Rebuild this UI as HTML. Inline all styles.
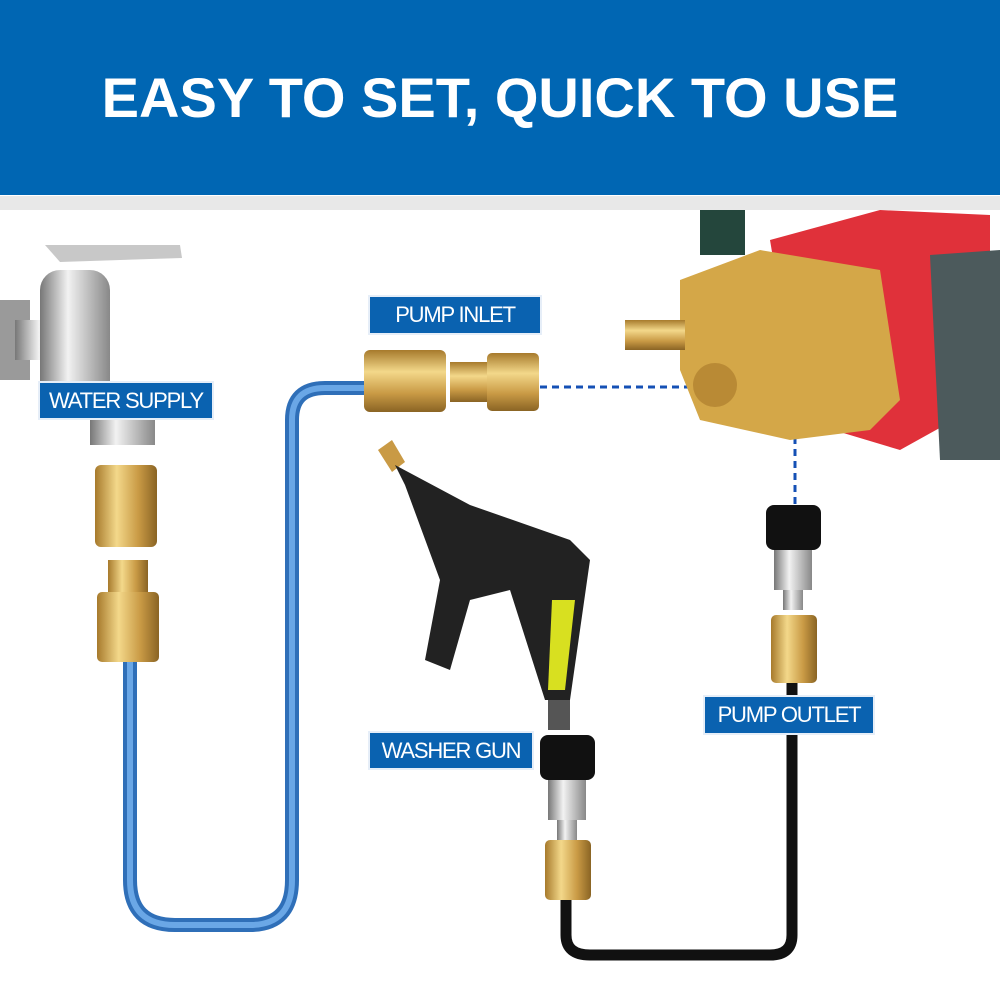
<!DOCTYPE html>
<html><head><style>
html,body{margin:0;padding:0;background:#fff}
.w{position:relative;width:1000px;height:985px;overflow:hidden;font-family:"Liberation Sans",sans-serif}
.hd{position:absolute;left:0;top:0;width:1000px;height:195px;background:#0066b3;color:#fff;font-weight:bold;font-size:56px;text-align:center;line-height:195px;letter-spacing:0px}
.gb{position:absolute;left:0;top:196px;width:1000px;height:14px;background:#e8e8e8}
.lb{position:absolute;background:#0a62b0;color:#fff;font-size:22px;text-align:center;letter-spacing:-1.2px;box-shadow:0 0 0 2px #e6eef8}
svg{position:absolute;left:0;top:0}
</style></head><body><div class="w">
<div class="hd">EASY TO SET, QUICK TO USE</div>
<div class="gb"></div>
<svg width="1000" height="985">
<defs>
<linearGradient id="br" x1="0" y1="0" x2="1" y2="0"><stop offset="0" stop-color="#a77a2c"/><stop offset=".35" stop-color="#f3d88a"/><stop offset=".7" stop-color="#c99a45"/><stop offset="1" stop-color="#8a6424"/></linearGradient>
<linearGradient id="brv" x1="0" y1="0" x2="0" y2="1"><stop offset="0" stop-color="#a77a2c"/><stop offset=".35" stop-color="#f3d88a"/><stop offset=".7" stop-color="#c99a45"/><stop offset="1" stop-color="#8a6424"/></linearGradient>
<linearGradient id="ch" x1="0" y1="0" x2="1" y2="0"><stop offset="0" stop-color="#777"/><stop offset=".4" stop-color="#f2f2f2"/><stop offset="1" stop-color="#888"/></linearGradient>
</defs>
<rect x="0" y="300" width="30" height="80" fill="#9a9a9a"/>
<rect x="15" y="320" width="60" height="40" fill="url(#ch)"/>
<rect x="40" y="270" width="70" height="130" rx="20" fill="url(#ch)"/>
<path d="M45 245 L180 245 L182 258 L60 262 Z" fill="#c8c8c8"/>
<rect x="90" y="400" width="65" height="45" fill="url(#ch)"/>
<path d="M130 660 L130 880 Q130 925 175 925 L250 925 Q292 925 292 880 L292 420 Q292 388 325 388 L368 388" fill="none" stroke="#2f6fb8" stroke-width="14"/>
<path d="M130 660 L130 880 Q130 925 175 925 L250 925 Q292 925 292 880 L292 420 Q292 388 325 388 L368 388" fill="none" stroke="#6aa7e6" stroke-width="6"/>
<rect x="95" y="465" width="62" height="82" rx="6" fill="url(#br)"/>
<rect x="108" y="560" width="40" height="35" fill="url(#br)"/>
<rect x="97" y="592" width="62" height="70" rx="5" fill="url(#br)"/>
<rect x="364" y="350" width="82" height="62" rx="6" fill="url(#brv)"/>
<rect x="450" y="362" width="40" height="40" fill="url(#brv)"/>
<rect x="487" y="353" width="52" height="58" rx="5" fill="url(#brv)"/>
<g stroke="#1550b5" stroke-width="3" stroke-dasharray="7,5" fill="none">
<path d="M540 387 L690 387"/><path d="M645 347 L795 347 L795 505"/>
</g>
<rect x="700" y="210" width="45" height="45" fill="#24463c"/>
<path d="M770 240 L880 210 L990 215 L990 400 L900 450 L800 420 Z" fill="#e0313a"/>
<path d="M930 255 L1000 250 L1000 460 L940 460 Z" fill="#4c5a5c"/>
<path d="M680 280 L760 250 L880 270 L900 400 L870 430 L790 440 L700 420 L680 370 Z" fill="#d4a748"/>
<rect x="625" y="320" width="60" height="30" fill="url(#brv)"/>
<circle cx="715" cy="385" r="22" fill="#b98a35"/>
<path d="M378 450 L392 440 L405 462 L392 472 Z" fill="#c99a45"/>
<path d="M395 465 L470 505 L570 540 L590 560 L570 700 L545 700 L510 590 L470 600 L450 670 L425 660 L440 580 L405 485 Z" fill="#222"/>
<path d="M552 600 L575 600 L565 690 L548 690 Z" fill="#d8e020"/>
<rect x="548" y="700" width="22" height="30" fill="#555"/>
<rect x="540" y="735" width="55" height="45" rx="8" fill="#111"/>
<rect x="548" y="780" width="38" height="40" fill="url(#ch)"/>
<rect x="557" y="820" width="20" height="20" fill="url(#ch)"/>
<rect x="545" y="840" width="46" height="60" rx="5" fill="url(#br)"/>
<path d="M566 900 L566 935 Q566 955 590 955 L770 955 Q792 955 792 935 L792 680" fill="none" stroke="#111" stroke-width="11"/>
<rect x="766" y="505" width="55" height="45" rx="8" fill="#111"/>
<rect x="774" y="550" width="38" height="40" fill="url(#ch)"/>
<rect x="783" y="590" width="20" height="20" fill="url(#ch)"/>
<rect x="771" y="615" width="46" height="68" rx="5" fill="url(#br)"/>
</svg>
<div class="lb" style="left:40px;top:383px;width:172px;height:35px;line-height:35px">WATER SUPPLY</div>
<div class="lb" style="left:370px;top:297px;width:170px;height:36px;line-height:36px">PUMP INLET</div>
<div class="lb" style="left:370px;top:733px;width:162px;height:35px;line-height:35px">WASHER GUN</div>
<div class="lb" style="left:705px;top:697px;width:168px;height:36px;line-height:36px">PUMP OUTLET</div>
</div></body></html>
